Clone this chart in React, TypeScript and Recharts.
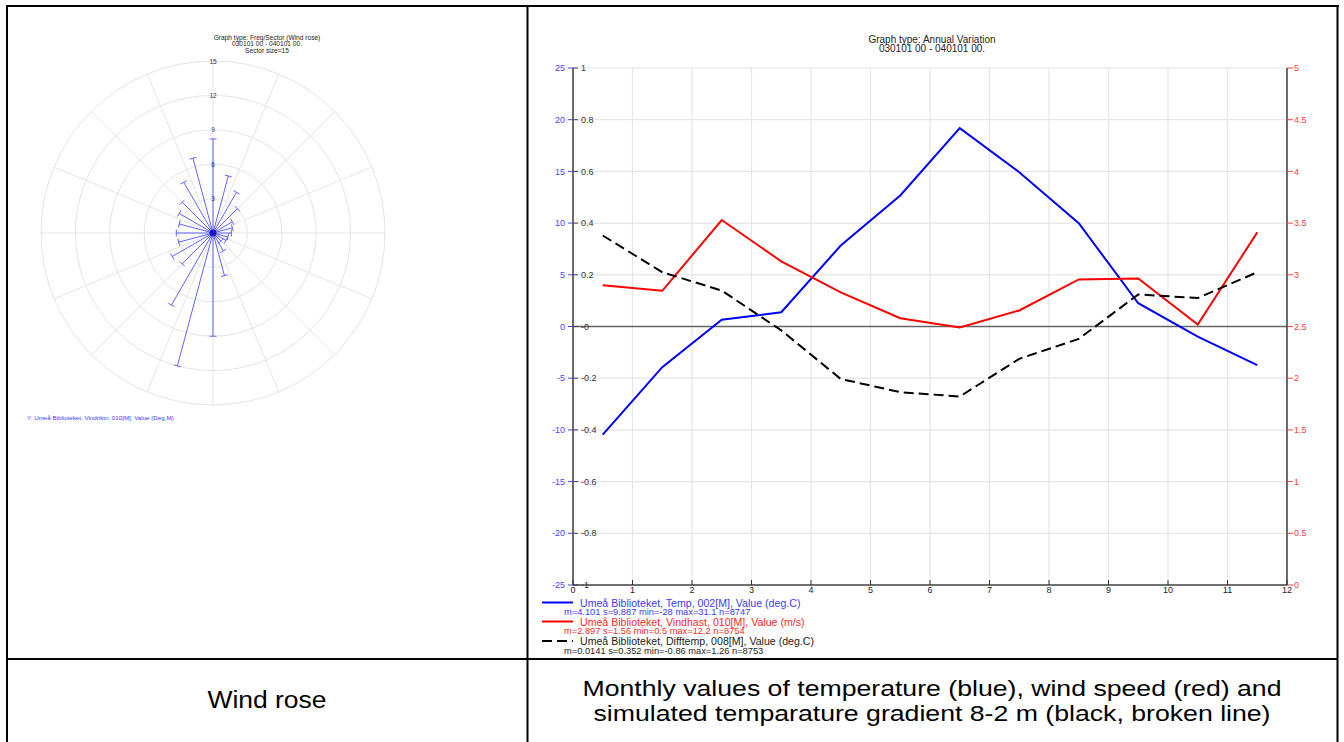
import React from 'react';
import {
  LineChart, Line, XAxis, YAxis, CartesianGrid, ReferenceLine,
  RadarChart, Radar, PolarGrid, PolarAngleAxis, PolarRadiusAxis,
} from 'recharts';

const FONT = '"Liberation Sans", Arial, sans-serif';

// Wind rose: frequency (%) per 15 degree sector, clockwise from north
const SECTORS = ['0', '15', '30', '45', '60', '75', '90', '105', '120', '135', '150', '165',
  '180', '195', '210', '225', '240', '255', '270', '285', '300', '315', '330', '345'];
const SECTOR_FREQ = [8.2, 5.15, 4.1, 3.0, 1.95, 1.75, 1.6, 1.35, 1.3, 1.0, 1.8, 3.85,
  9.0, 12.0, 7.25, 3.8, 4.1, 3.1, 3.2, 3.05, 3.4, 3.8, 5.1, 6.75];
const ROSE_TICKS = [0, 3, 6, 9, 12, 15];
const ROSE_SPOKES = [0, 22.5, 45, 67.5, 90, 112.5, 135, 157.5, 180, 202.5, 225, 247.5, 270, 292.5, 315, 337.5];

// Annual variation, monthly means
const MONTH_X = [0.5, 1.5, 2.5, 3.5, 4.5, 5.5, 6.5, 7.5, 8.5, 9.5, 10.5, 11.5];
const TEMP = [-10.45, -3.93, 0.65, 1.38, 7.83, 12.67, 19.18, 14.92, 9.99, 2.25, -0.97, -3.74];
const WIND = [2.9, 2.845, 3.53, 3.13, 2.83, 2.58, 2.49, 2.655, 2.955, 2.964, 2.52, 3.41];
const DIFFTEMP = [0.352, 0.21, 0.139, -0.015, -0.203, -0.254, -0.271, -0.125, -0.048, 0.124, 0.11, 0.21];

const X_TICKS = [0, 1, 2, 3, 4, 5, 6, 7, 8, 9, 10, 11, 12];
const TEMP_TICKS = [-25, -20, -15, -10, -5, 0, 5, 10, 15, 20, 25];
const WIND_TICKS = [0, 0.5, 1, 1.5, 2, 2.5, 3, 3.5, 4, 4.5, 5];
const GRAD_TICKS = [-1, -0.8, -0.6, -0.4, -0.2, 0, 0.2, 0.4, 0.6, 0.8, 1];
const GRAD_TICK_LABELS = ['-1', '-0.8', '-0.6', '-0.4', '-0.2', '-0', '0.2', '0.4', '0.6', '0.8', '1'];

const SERIES_NAMES = [
  'Umeå Biblioteket, Temp, 002[M], Value (deg.C)',
  'Umeå Biblioteket, Vindhast, 010[M], Value (m/s)',
  'Umeå Biblioteket, Difftemp, 008[M], Value (deg.C)',
];
const SERIES_STATS = [
  'm=4.101 s=9.887 min=-28 max=31.1 n=8747',
  'm=2.897 s=1.56 min=0.5 max=12.2 n=8754',
  'm=0.0141 s=0.352 min=-0.86 max=1.26 n=8753',
];

const roseData = SECTORS.map((dir, i) => ({ dir, freq: SECTOR_FREQ[i] }));
const monthData = MONTH_X.map((x, i) => ({ x, temp: TEMP[i], wind: WIND[i], diff: DIFFTEMP[i] }));

const ROSE_BLUE = '#6262ff';

const RoseSpokes = (props: any) => {
  const { points } = props;
  if (!points || !points.length) return null;
  return (
    <g>
      {points.map((p: any, i: number) => {
        const dx = p.x - p.cx;
        const dy = p.y - p.cy;
        const len = Math.hypot(dx, dy) || 1;
        const nx = (-dy / len) * 3.5;
        const ny = (dx / len) * 3.5;
        return (
          <g key={i}>
            <line x1={p.cx} y1={p.cy} x2={p.x} y2={p.y} stroke={ROSE_BLUE} strokeWidth={1} />
            <line x1={p.x - nx} y1={p.y - ny} x2={p.x + nx} y2={p.y + ny} stroke={ROSE_BLUE} strokeWidth={1} />
          </g>
        );
      })}
      <circle cx={points[0].cx} cy={points[0].cy} r={3.5} fill="#1010e0" />
    </g>
  );
};

const RoseTick = ({ x, y, payload }: any) => (
  <text x={x} y={y} textAnchor="middle" dominantBaseline="central" fontSize={6.5} fill="#333" fontFamily={FONT}>
    {payload.value}
  </text>
);

const MonthTick = ({ x, y, payload }: any) => (
  <g>
    <line x1={x} x2={x} y1={y - 5} y2={y} stroke="#333" />
    <text x={x} y={y + 8} textAnchor="middle" fontSize={9} fill="#222" fontFamily={FONT}>
      {payload.value}
    </text>
  </g>
);

const gradLabel = (v: number) => GRAD_TICK_LABELS[GRAD_TICKS.findIndex(t => Math.abs(t - v) < 1e-9)] ?? String(v);

const LEGEND_COLORS = ['#3a3aff', '#ff2a2a', '#222'];
const LINE_COLORS = ['#0000ff', '#ff0000', '#000'];
const LEGEND_ROWS = [602.5, 621.5, 641];

export default function App() {
  return (
    <div style={{ position: 'absolute', left: 0, top: 0, width: 1344, height: 742, background: '#fff', overflow: 'hidden', fontFamily: FONT }}>
      {/* table frame, titles, legends, captions */}
      <svg width={1344} height={742} style={{ position: 'absolute', left: 0, top: 0 }} fontFamily={FONT}>
        <g stroke="#000" strokeWidth={2}>
          <line x1={6} x2={1339} y1={6} y2={6} />
          <line x1={7} x2={7} y1={5} y2={742} />
          <line x1={527.5} x2={527.5} y1={5} y2={742} />
          <line x1={1337.5} x2={1337.5} y1={5} y2={742} />
          <line x1={7} x2={1338} y1={659} y2={659} />
        </g>

        <g fontSize={6.6} fill="#222" textAnchor="middle">
          <text x={267} y={39.7}>Graph type: Freq/Sector (Wind rose)</text>
          <text x={267} y={46.2}>030101 00 - 040101 00.</text>
          <text x={267} y={52.7}>Sector size=15</text>
        </g>
        <text x={27} y={420} fontSize={6.2} fill="#3c3cff">Y: Umeå Biblioteket, Vindriktn, 010[M], Value (Deg.M)</text>

        <g fontSize={10} fill="#222" textAnchor="middle">
          <text x={932} y={43}>Graph type: Annual Variation</text>
          <text x={932} y={52}>030101 00 - 040101 00.</text>
        </g>

        {SERIES_NAMES.map((name, i) => (
          <g key={name}>
            <line x1={542} x2={573} y1={LEGEND_ROWS[i]} y2={LEGEND_ROWS[i]} stroke={LINE_COLORS[i]} strokeWidth={2}
              strokeDasharray={i === 2 ? '10 5' : undefined} />
            <text x={580} y={LEGEND_ROWS[i]} dominantBaseline="central" fontSize={10.6} fill={LEGEND_COLORS[i]}>{name}</text>
            <text x={564} y={LEGEND_ROWS[i] + 9.6} dominantBaseline="central" fontSize={9.3} fill={LEGEND_COLORS[i]}>{SERIES_STATS[i]}</text>
          </g>
        ))}

        <g fill="#000" textAnchor="middle">
          <text x={267} y={708} fontSize={23} textLength={119} lengthAdjust="spacingAndGlyphs">Wind rose</text>
          <text x={932} y={695.5} fontSize={22} textLength={699} lengthAdjust="spacingAndGlyphs">Monthly values of temperature (blue), wind speed (red) and</text>
          <text x={932} y={721} fontSize={22} textLength={677} lengthAdjust="spacingAndGlyphs">simulated temparature gradient 8-2 m (black, broken line)</text>
        </g>
      </svg>

      {/* wind rose */}
      <div style={{ position: 'absolute', left: 0, top: 0 }}>
        <RadarChart width={527} height={440} data={roseData} cx={213} cy={233} outerRadius={172} innerRadius={0}
          margin={{ top: 0, right: 0, bottom: 0, left: 0 }}>
          <PolarGrid gridType="circle" stroke="#e4e4e4" polarAngles={ROSE_SPOKES} />
          <PolarAngleAxis dataKey="dir" tick={false} axisLine={false} tickLine={false} />
          <PolarRadiusAxis angle={90} type="number" domain={[0, 15]} ticks={ROSE_TICKS} tickCount={6}
            axisLine={false} tickLine={false} tick={RoseTick} />
          <PolarRadiusAxis radiusAxisId="low" angle={-90} type="number" domain={[0, 15]} ticks={ROSE_TICKS.slice(1)}
            tickCount={6} axisLine={false} tickLine={false} tick={RoseTick} />
          <Radar dataKey="freq" shape={RoseSpokes} isAnimationActive={false} />
        </RadarChart>
      </div>

      {/* annual variation */}
      <div style={{ position: 'absolute', left: 530, top: 20 }}>
        <LineChart width={800} height={585} data={monthData} margin={{ top: 48, right: 8, bottom: 0, left: 8 }}>
          <CartesianGrid yAxisId="temp" stroke="#e6e6e6" strokeWidth={1.2} />
          <XAxis dataKey="x" type="number" domain={[0, 12]} ticks={X_TICKS} interval={0} height={20}
            axisLine={{ stroke: '#444', strokeWidth: 1.5 }} tickLine={false} tickSize={0} tickMargin={0} tick={MonthTick} />
          <YAxis yAxisId="temp" orientation="left" width={35} type="number" domain={[-25, 25]} ticks={TEMP_TICKS} interval={0}
            axisLine={{ stroke: '#111', strokeWidth: 1.2 }} tickLine={{ stroke: '#4646ff' }} tickSize={5} tickMargin={3}
            tick={{ fill: '#4646ff', fontSize: 9 }} />
          <YAxis yAxisId="grad" orientation="left" mirror width={30} type="number" domain={[-1, 1]} ticks={GRAD_TICKS} interval={0}
            axisLine={false} tickLine={{ stroke: '#444' }} tickSize={5} tickMargin={3}
            tick={{ fill: '#333', fontSize: 9 }} tickFormatter={gradLabel} />
          <YAxis yAxisId="wind" orientation="right" width={35} type="number" domain={[0, 5]} ticks={WIND_TICKS} interval={0}
            axisLine={{ stroke: '#111', strokeWidth: 1.2 }} tickLine={{ stroke: '#ff4040' }} tickSize={6} tickMargin={1}
            tick={{ fill: '#ff4040', fontSize: 9 }} />
          <ReferenceLine yAxisId="temp" y={0} stroke="#666" strokeWidth={1.5} />
          <Line yAxisId="temp" dataKey="temp" type="linear" stroke="#0000ff" strokeWidth={2} dot={false} isAnimationActive={false} />
          <Line yAxisId="wind" dataKey="wind" type="linear" stroke="#ff0000" strokeWidth={2} dot={false} isAnimationActive={false} />
          <Line yAxisId="grad" dataKey="diff" type="linear" stroke="#000" strokeWidth={2} strokeDasharray="10 5" dot={false} isAnimationActive={false} />
        </LineChart>
      </div>
    </div>
  );
}
